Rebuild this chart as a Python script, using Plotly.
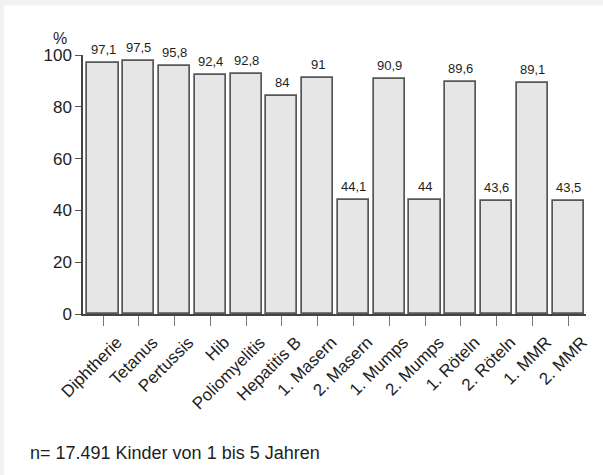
import plotly.graph_objects as go

# Impfquoten bei Schuleingangsuntersuchungen
categories = [
    "Diphtherie", "Tetanus", "Pertussis", "Hib", "Poliomyelitis",
    "Hepatitis B", "1. Masern", "2. Masern", "1. Mumps", "2. Mumps",
    "1. Röteln", "2. Röteln", "1. MMR", "2. MMR",
]
values = [97.1, 97.5, 95.8, 92.4, 92.8, 84, 91, 44.1, 90.9, 44, 89.6, 43.6, 89.1, 43.5]
y_ticks = [0, 20, 40, 60, 80, 100]
footnote = "n= 17.491 Kinder von 1 bis 5 Jahren"


def fmt(v):
    s = f"{v:g}"
    return s.replace(".", ",")


labels = [fmt(v) for v in values]
FONT = "Liberation Sans, Arial, sans-serif"
INK = "#1e1e1e"
xs = list(range(len(categories)))

fig = go.Figure(
    go.Bar(
        x=xs,
        y=values,
        width=0.87,
        marker=dict(color="#e6e6e6", line=dict(color="#575757", width=1.7)),
        hoverinfo="skip",
    )
)

# value labels above each bar
for x, v, t in zip(xs, values, labels):
    fig.add_annotation(x=x, y=v, text=t, showarrow=False, yanchor="bottom",
                       xanchor="center", yshift=4,
                       font=dict(size=13, color=INK, family=FONT))

fig.update_layout(
    width=603,
    height=475,
    margin=dict(l=83, r=17, t=55, b=161),
    paper_bgcolor="white",
    plot_bgcolor="white",
    showlegend=False,
    bargap=0,
    font=dict(family=FONT, color=INK),
)

fig.update_xaxes(
    range=[-0.56, 13.5],
    tickmode="array",
    tickvals=xs,
    ticktext=categories,
    tickangle=-45,
    ticks="outside",
    ticklen=10,
    tickwidth=1.2,
    tickcolor="#777777",
    tickfont=dict(size=17, color=INK),
    ticklabelshift=14,
    showline=True,
    linecolor="#444444",
    linewidth=1.5,
    showgrid=False,
    zeroline=False,
    fixedrange=True,
)

fig.update_yaxes(
    range=[0, 100],
    tickmode="array",
    tickvals=y_ticks,
    ticks="outside",
    ticklen=6,
    tickwidth=1.2,
    tickcolor="#555555",
    tickfont=dict(size=17, color=INK),
    showline=True,
    linecolor="#444444",
    linewidth=1.5,
    showgrid=False,
    zeroline=False,
    fixedrange=True,
)

# light frame strips along top and left edge
fig.add_shape(type="rect", xref="paper", yref="paper", x0=-0.165, x1=1.034,
              y0=1.191, y1=1.213, fillcolor="#f2f2f2", line_width=0, layer="below")
fig.add_shape(type="rect", xref="paper", yref="paper", x0=-0.165, x1=-0.157,
              y0=-0.622, y1=1.213, fillcolor="#f2f2f2", line_width=0, layer="below")

fig.add_annotation(text="%", xref="paper", yref="paper", x=-0.046, y=1.062,
                   showarrow=False, font=dict(size=16, color=INK),
                   xanchor="center", yanchor="middle")
fig.add_annotation(text=footnote, xref="paper", yref="paper", x=-0.109, y=-0.537,
                   showarrow=False, font=dict(size=18, color=INK),
                   xanchor="left", yanchor="middle")

fig.write_html("out.html", config={"displayModeBar": False})
